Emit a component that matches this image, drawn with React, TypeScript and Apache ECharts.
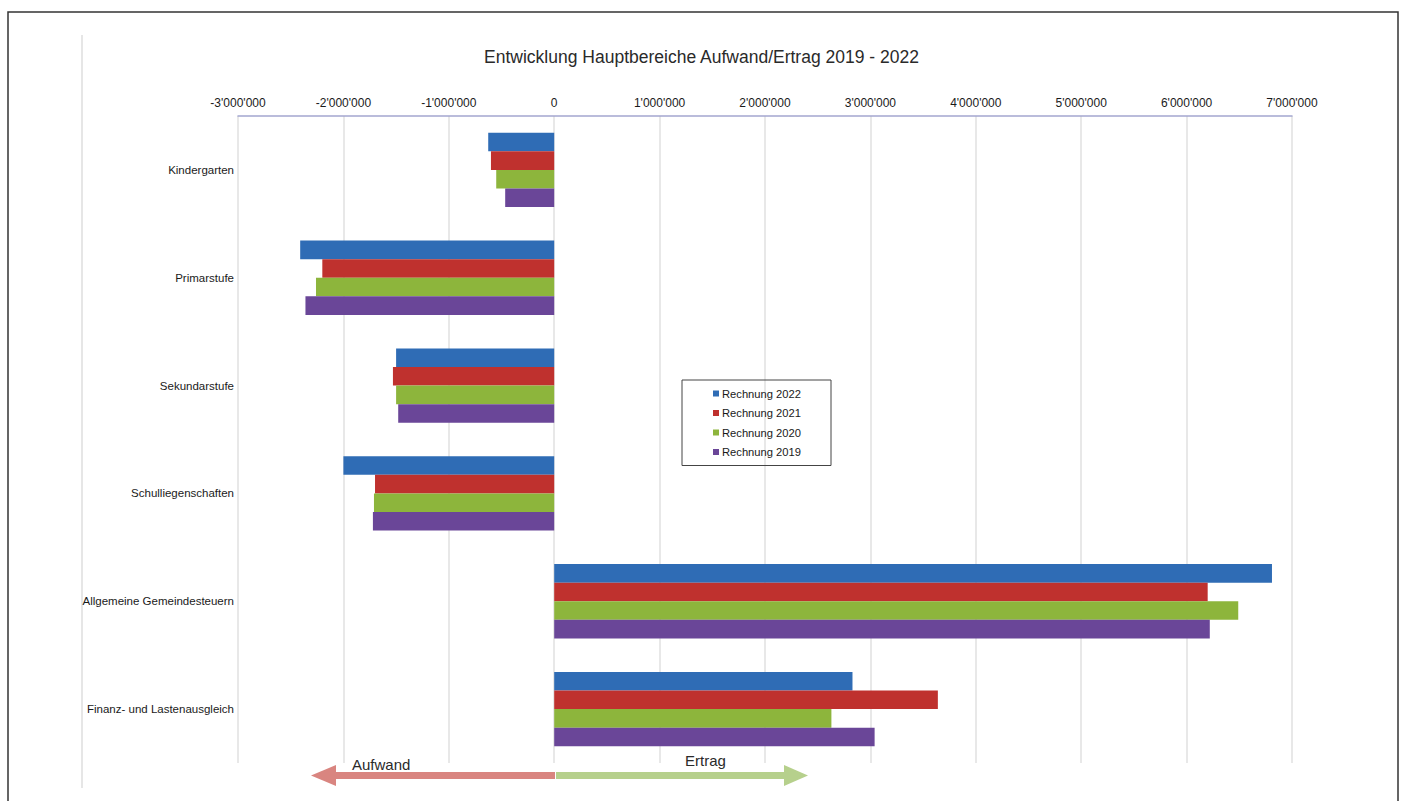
import React, { useEffect, useRef } from "react";
import * as echarts from "echarts";

const categories = [
  "Kindergarten",
  "Primarstufe",
  "Sekundarstufe",
  "Schulliegenschaften",
  "Allgemeine Gemeindesteuern",
  "Finanz- und Lastenausgleich",
];

const r2022 = [-626000, -2410000, -1500000, -2000000, 6810000, 2830000];
const r2021 = [-600000, -2200000, -1530000, -1700000, 6200000, 3640000];
const r2020 = [-550000, -2260000, -1500000, -1710000, 6490000, 2630000];
const r2019 = [-465000, -2360000, -1480000, -1720000, 6220000, 3040000];

const seriesNames = ["Rechnung 2022", "Rechnung 2021", "Rechnung 2020", "Rechnung 2019"];
const seriesColors = ["#2f6cb5", "#bf312e", "#8db53c", "#6a4698"];

const xMin = -3000000;
const xMax = 7000000;
const xInterval = 1000000;

const fmt = (v: number) => {
  const neg = v < 0;
  const s = Math.abs(v).toString().replace(/\B(?=(\d{3})+(?!\d))/g, "'");
  return (neg ? "-" : "") + s;
};

export default function App() {
  const ref = useRef<HTMLDivElement>(null);
  useEffect(() => {
    if (!ref.current) return;
    const chart = echarts.init(ref.current, undefined, { renderer: "svg" });
    const data = [r2022, r2021, r2020, r2019];
    const font = "Liberation Sans, Arial, sans-serif";
    chart.setOption({
      animation: false,
      backgroundColor: "#ffffff",
      textStyle: { fontFamily: font },
      title: {
        text: "Entwicklung Hauptbereiche Aufwand/Ertrag 2019 - 2022",
        left: "center",
        top: 43,
        textStyle: { fontSize: 17.5, fontWeight: "normal", color: "#2a2a2a", fontFamily: font },
      },
      legend: {
        data: seriesNames,
        orient: "vertical",
        left: 682,
        top: 380,
        width: 151,
        padding: [8, 30, 8, 31],
        itemGap: 8.5,
        itemWidth: 6,
        itemHeight: 6,
        icon: "rect",
        borderColor: "#444",
        borderWidth: 1,
        textStyle: { fontSize: 11.2, color: "#1a1a1a", fontFamily: font, padding: [0, 0, 0, -2] },
      },
      grid: { left: 238, right: 111, top: 116, bottom: 38, containLabel: false },
      xAxis: {
        type: "value",
        position: "top",
        min: xMin,
        max: xMax,
        interval: xInterval,
        axisLine: { show: true, onZero: false, lineStyle: { color: "#a3a6cf", width: 1.5 } },
        axisTick: { show: false },
        axisLabel: { formatter: fmt, fontSize: 12, color: "#1a1a1a", margin: 7, fontFamily: font },
        splitLine: { show: true, lineStyle: { color: "#e0e0e0", width: 1.5 } },
      },
      yAxis: {
        type: "category",
        data: categories,
        inverse: true,
        axisLine: { show: false },
        axisTick: { show: false },
        axisLabel: { fontSize: 11.5, color: "#1a1a1a", margin: 4, fontFamily: font },
        splitLine: { show: false },
      },
      series: seriesNames.map((name, i) => ({
        name,
        type: "bar",
        data: data[i],
        barGap: "0%",
        barCategoryGap: "31%",
        itemStyle: { color: seriesColors[i] },
      })),
      graphic: [
        {
          type: "rect",
          shape: { x: 8, y: 12, width: 1390, height: 800 },
          style: { fill: "none", stroke: "#333", lineWidth: 1.5 },
          silent: true,
        },
        {
          type: "line",
          shape: { x1: 82, y1: 35, x2: 82, y2: 788 },
          style: { stroke: "#e6e6e6", lineWidth: 2 },
          silent: true,
        },
        {
          type: "rect",
          shape: { x: 332, y: 772, width: 223, height: 7 },
          style: { fill: "#d98580" },
          silent: true,
        },
        {
          type: "polygon",
          shape: { points: [[311, 775.5], [336, 765], [336, 786]] },
          style: { fill: "#d98580" },
          silent: true,
        },
        {
          type: "rect",
          shape: { x: 556, y: 772, width: 230, height: 7 },
          style: { fill: "#b6d08c" },
          silent: true,
        },
        {
          type: "polygon",
          shape: { points: [[808, 775.5], [784, 765], [784, 786]] },
          style: { fill: "#b6d08c" },
          silent: true,
        },
        {
          type: "text",
          x: 352,
          y: 764,
          style: {
            text: "Aufwand",
            fontSize: 15,
            fill: "#2a2a2a",
            fontFamily: font,
            textVerticalAlign: "middle",
          },
          silent: true,
        },
        {
          type: "text",
          x: 685,
          y: 760,
          style: {
            text: "Ertrag",
            fontSize: 15,
            fill: "#2a2a2a",
            fontFamily: font,
            textVerticalAlign: "middle",
          },
          silent: true,
        },
      ],
    });
    return () => chart.dispose();
  }, []);
  return (
    <div
      ref={ref}
      style={{ position: "absolute", left: 0, top: 0, width: 1403, height: 801 }}
    />
  );
}
